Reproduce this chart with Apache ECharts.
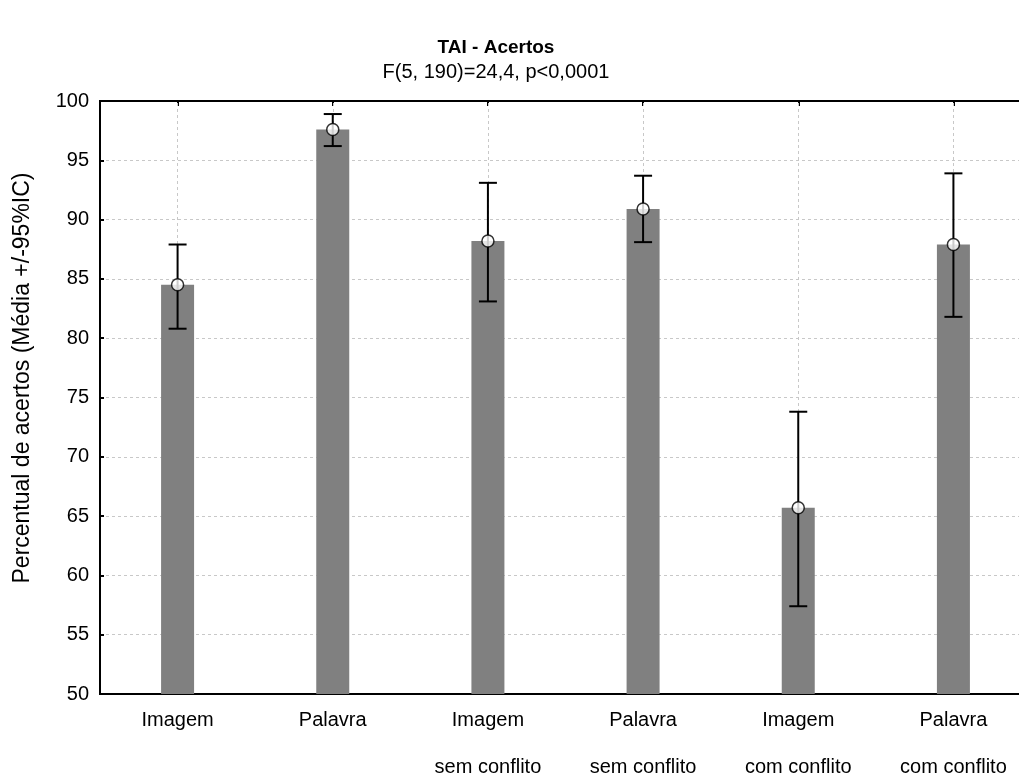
<!DOCTYPE html>
<html>
<head>
<meta charset="utf-8">
<script src="https://cdn.jsdelivr.net/npm/echarts@6/dist/echarts.min.js"></script>
<style>html,body{margin:0;padding:0;background:#fff}#c{width:1019px;height:776px}</style>
</head>
<body>
<div id="c"></div>
<script>
const categories = ["Imagem", "Palavra", "Imagem\nsem conflito", "Palavra\nsem conflito", "Imagem\ncom conflito", "Palavra\ncom conflito"];
const means = [84.5, 97.6, 88.2, 90.9, 65.7, 87.9];
const ciLow = [80.8, 96.2, 83.1, 88.1, 57.4, 81.8];
const ciHigh = [87.9, 98.9, 93.1, 93.7, 73.8, 93.9];
const yTicks = [50, 55, 60, 65, 70, 75, 80, 85, 90, 95, 100];
const yName = 'Percentual de acertos (Média +/-95%IC)';

const FONT = "Liberation Sans, Arial, sans-serif";
const chart = echarts.init(document.getElementById('c'), null, {renderer: 'canvas'});

const errData = categories.map((c, i) => [i, ciLow[i], ciHigh[i]]);
const meanData = categories.map((c, i) => [i, means[i]]);

chart.setOption({
  animation: false,
  title: [
    {text: 'TAI - Acertos', left: 491, top: 33, textAlign: 'center',
     textStyle: {fontFamily: FONT, fontSize: 19, fontWeight: 'bold', color: '#000'}},
    {text: 'F(5, 190)=24,4, p<0,0001', left: 491, top: 57, textAlign: 'center',
     textStyle: {fontFamily: FONT, fontSize: 20, fontWeight: 'normal', color: '#000'}}
  ],
  graphic: [
    {type: 'text', x: 23, y: 378, rotation: Math.PI / 2, silent: true,
     style: {text: yName, font: '23px ' + FONT, fill: '#000', align: 'center', verticalAlign: 'middle'}}
  ],
  grid: {left: 100, top: 101, width: 931, height: 593, containLabel: false, outerBoundsMode: 'none',
    show: true, borderColor: '#000', borderWidth: 2, backgroundColor: 'transparent'},
  xAxis: [
    {type: 'category', data: categories, position: 'bottom', boundaryGap: true,
     axisLine: {show: true, lineStyle: {color: '#000', width: 2}},
     axisTick: {show: true, inside: true, alignWithLabel: true, length: 5, lineStyle: {color: '#000', width: 2}},
     axisLabel: {fontFamily: FONT, fontSize: 20, color: '#000', lineHeight: 47, margin: 3, interval: 0},
     splitLine: {show: false}},
    {type: 'category', data: categories, position: 'top', boundaryGap: true,
     axisLine: {show: true, lineStyle: {color: '#000', width: 2}},
     axisTick: {show: true, inside: true, alignWithLabel: true, length: 5, lineStyle: {color: '#000', width: 2}},
     axisLabel: {show: false}, splitLine: {show: false}}
  ],
  yAxis: {type: 'value', min: yTicks[0], max: yTicks[yTicks.length - 1], interval: 5,
    axisLine: {show: true, lineStyle: {color: '#000', width: 2}},
    axisTick: {show: true, inside: true, length: 4, lineStyle: {color: '#000', width: 2}},
    axisLabel: {fontFamily: FONT, fontSize: 20, color: '#000', margin: 11},
    splitLine: {show: true, lineStyle: {color: '#c8c8c8', type: [3, 3], width: 1}}},
  series: [
    {type: 'line', data: [], z: 1, silent: true,
     markLine: {silent: true, z: 1, symbol: 'none', label: {show: false},
       lineStyle: {color: '#c8c8c8', type: [3, 3], width: 1},
       data: categories.map(c => ({xAxis: c}))}},
    {type: 'bar', data: means, barWidth: 33, z: 2,
     itemStyle: {color: '#808080'}},
    {type: 'custom', z: 3, data: errData,
     renderItem: function (params, api) {
       const lo = api.coord([api.value(0), api.value(1)]);
       const hi = api.coord([api.value(0), api.value(2)]);
       const hw = 9;
       const st = {stroke: '#000', lineWidth: 2};
       return {type: 'group', children: [
         {type: 'line', shape: {x1: lo[0], y1: lo[1], x2: hi[0], y2: hi[1]}, style: st},
         {type: 'line', shape: {x1: lo[0] - hw, y1: lo[1], x2: lo[0] + hw, y2: lo[1]}, style: st},
         {type: 'line', shape: {x1: hi[0] - hw, y1: hi[1], x2: hi[0] + hw, y2: hi[1]}, style: st}
       ]};
     }},
    {type: 'scatter', z: 4, data: meanData, symbol: 'circle', symbolSize: 12,
     itemStyle: {color: '#fff', borderColor: '#000', borderWidth: 1.5}}
  ]
});
</script>
</body>
</html>
